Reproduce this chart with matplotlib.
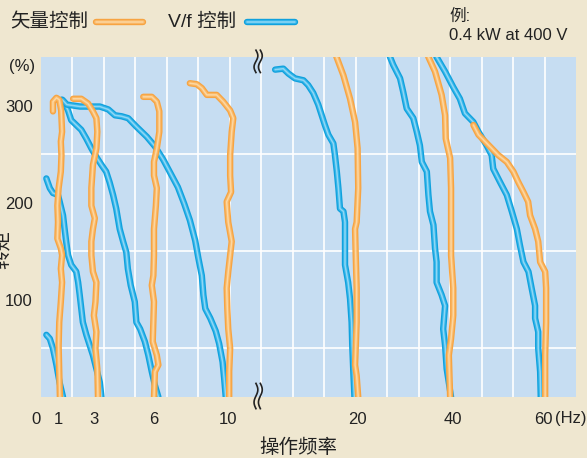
import numpy as np
import matplotlib
matplotlib.use("Agg")
import matplotlib.pyplot as plt
from matplotlib.lines import Line2D

plt.rcParams['font.family'] = ['Liberation Sans', 'Noto Sans CJK SC']

# x is in grid-column units of the drawing (the frequency axis is not to scale), torque in %
freq_pos = [0, 0.55, 1.69, 3.57, 5.93, 10.05, 13.08, 15.95]
freq_labels = ["0", "1", "3", "6", "10", "20", "40", "60"]
torque_ticks = [100, 200, 300]

# vector control
vec1_x = [0.38, 0.38, 0.49, 0.58, 0.64, 0.67, 0.63, 0.65, 0.63, 0.56, 0.52, 0.54, 0.52, 0.63, 0.67, 0.63, 0.67, 0.63, 0.58, 0.56, 0.58, 0.60]
vec1_t = [294, 304, 308, 306, 295, 273, 263, 249, 232, 215, 197, 180, 163, 153, 146, 132, 118, 98, 77, 53, 26, 0]
vec3_x = [1.02, 1.28, 1.50, 1.65, 1.76, 1.79, 1.76, 1.65, 1.60, 1.60, 1.71, 1.65, 1.60, 1.60, 1.65, 1.76, 1.73, 1.68, 1.76, 1.73, 1.79, 1.81]
vec3_t = [307, 307, 302, 294, 287, 273, 256, 239, 215, 197, 184, 173, 160, 146, 129, 118, 98, 84, 67, 50, 29, 0]
vec6_x = [3.25, 3.52, 3.68, 3.76, 3.76, 3.68, 3.59, 3.59, 3.68, 3.65, 3.59, 3.59, 3.57, 3.52, 3.59, 3.57, 3.55, 3.68, 3.73, 3.62, 3.59]
vec6_t = [309, 309, 304, 294, 273, 256, 242, 228, 215, 197, 173, 146, 125, 115, 98, 77, 57, 43, 33, 26, 0]
vec10_x = [4.73, 4.95, 5.11, 5.27, 5.58, 5.79, 6.01, 6.11, 6.06, 6.01, 6.01, 6.04, 5.90, 5.95, 6.06, 6.01, 5.95, 5.90, 5.92, 5.95, 6.01, 5.98, 5.98]
vec10_t = [323, 322, 318, 311, 311, 304, 295, 287, 273, 249, 228, 211, 201, 180, 160, 146, 129, 112, 91, 70, 50, 26, 0]
vec20_x = [9.26, 9.39, 9.61, 9.82, 9.98, 10.06, 10.08, 10.03, 9.98, 10.00, 10.03, 10.03, 9.98, 10.03, 10.08]
vec20_t = [362, 350, 331, 307, 283, 256, 215, 180, 173, 146, 112, 77, 33, 22, 0]
vec40_x = [12.20, 12.31, 12.52, 12.73, 12.84, 12.86, 13.00, 13.03, 13.03, 13.03, 13.10, 13.10, 13.03, 12.96, 13.00]
vec40_t = [362, 350, 335, 311, 290, 266, 246, 215, 180, 146, 112, 84, 60, 43, 0]
vec60_x = [13.74, 13.90, 14.11, 14.32, 14.53, 14.80, 15.01, 15.17, 15.33, 15.48, 15.54, 15.70, 15.80, 15.86, 16.02, 16.05, 16.05, 16.02, 16.02]
vec60_t = [280, 270, 263, 256, 249, 242, 232, 221, 211, 201, 187, 173, 160, 139, 129, 112, 77, 43, 0]

# V/f control
vf1_x = [0.17, 0.28, 0.38, 0.49, 0.59, 0.70]
vf1_t = [64, 60, 50, 33, 15, 0]
vf3_x = [0.17, 0.28, 0.38, 0.54, 0.70, 0.75, 0.80, 0.86, 0.96, 1.12, 1.18, 1.23, 1.28, 1.33, 1.44, 1.55, 1.65, 1.76, 1.87, 1.92]
vf3_t = [225, 215, 210, 208, 187, 173, 160, 146, 136, 129, 118, 105, 91, 77, 64, 53, 43, 29, 15, 0]
vf6_x = [0.65, 0.75, 0.86, 0.96, 1.12, 1.28, 1.44, 1.60, 1.76, 1.92, 2.07, 2.18, 2.29, 2.39, 2.50, 2.61, 2.71, 2.76, 2.85, 2.98, 3.03, 3.15, 3.30, 3.41, 3.52, 3.62, 3.73]
vf6_t = [306, 302, 295, 285, 280, 275, 266, 256, 247, 239, 232, 221, 208, 194, 173, 160, 149, 132, 115, 98, 77, 70, 57, 43, 26, 12, 0]
vf10_x = [0.68, 0.82, 1.24, 1.87, 2.14, 2.35, 2.56, 2.77, 3.04, 3.36, 3.62, 3.89, 4.12, 4.35, 4.55, 4.73, 4.90, 5.00, 5.11, 5.16, 5.22, 5.38, 5.55, 5.66, 5.77, 5.82, 5.87]
vf10_t = [306, 301, 299, 299, 296, 290, 289, 287, 278, 268, 258, 244, 230, 216, 199, 182, 161, 143, 125, 105, 91, 81, 68, 55, 36, 19, 0]
vf20_x = [7.44, 7.70, 7.86, 8.07, 8.34, 8.49, 8.65, 8.81, 8.92, 9.02, 9.13, 9.29, 9.34, 9.40, 9.45, 9.50, 9.61, 9.66, 9.66, 9.66, 9.76, 9.82, 9.87, 9.89, 9.92, 9.96]
vf20_t = [337, 338, 333, 328, 326, 321, 313, 301, 290, 280, 270, 261, 249, 232, 215, 194, 191, 180, 160, 136, 118, 101, 77, 53, 29, 0]
vf40_x = [11.03, 11.09, 11.19, 11.41, 11.51, 11.62, 11.83, 11.94, 12.04, 12.10, 12.26, 12.31, 12.36, 12.47, 12.52, 12.57, 12.57, 12.73, 12.84, 12.78, 12.84, 12.89, 13.03]
vf40_t = [359, 350, 342, 328, 314, 297, 287, 273, 259, 242, 232, 208, 191, 177, 153, 139, 118, 105, 94, 70, 53, 29, 0]
vf60_x = [12.49, 12.57, 12.84, 13.10, 13.31, 13.47, 13.74, 13.90, 14.16, 14.32, 14.37, 14.59, 14.80, 14.96, 15.12, 15.22, 15.33, 15.49, 15.59, 15.70, 15.70, 15.80, 15.80, 15.86, 15.88]
vf60_t = [359, 350, 335, 319, 307, 292, 283, 273, 259, 249, 235, 221, 208, 191, 173, 156, 139, 129, 112, 94, 81, 67, 50, 26, 0]

BG = '#efe7d0'
PLOT_BG = '#c6ddf2'
ORANGE = ('#f7a442', '#fab866', '#fcd7a2')
BLUE = ('#10a1dd', '#36b6ea', '#8fd7f5')
WIDTHS = (4.6, 2.8, 1.1)
TEXT = '#222222'
BREAK_AT = 6.9


def tube(ax, x, y, cols):
    # thick line with a lighter core, like the drawn pipes of the original
    for col, lw in zip(cols, WIDTHS):
        ax.plot(x, y, color=col, lw=lw, solid_capstyle='round', solid_joinstyle='round')


def squiggle(ax, x0, t0, t1):
    s = np.linspace(0, 1, 40)
    for dx in (-0.07, 0.07):
        ax.plot(x0 + dx + 0.06 * np.sin(2 * np.pi * s), t0 + (t1 - t0) * s,
                color=TEXT, lw=1.2, clip_on=False, zorder=5)


fig = plt.figure(figsize=(5.87, 4.58), dpi=100, facecolor=BG)
ax = fig.add_axes([41 / 587, 61 / 458, 535 / 587, 340 / 458])
ax.set_facecolor(PLOT_BG)
ax.set_xlim(0, 17)
ax.set_ylim(0, 350)
for s in ax.spines.values():
    s.set_visible(False)

ax.set_xticks(np.arange(1, 17), minor=True)
ax.set_yticks(np.arange(50, 350, 50), minor=True)
ax.grid(which='minor', color='white', lw=1.2)
ax.set_axisbelow(True)
ax.tick_params(which='both', length=0)
ax.set_xticks(freq_pos)
ax.set_xticklabels(freq_labels, fontsize=12, color=TEXT)
ax.get_xticklabels()[0].set_ha('right')
ax.set_yticks(torque_ticks)
ax.set_yticklabels([str(v) for v in torque_ticks], fontsize=12, color=TEXT)
ax.tick_params(axis='x', pad=11)
ax.tick_params(axis='y', pad=6)
ax.text(16.33, -22, "(Hz)", fontsize=12, color=TEXT, ha='left', va='center')

for x, t in [(vf1_x, vf1_t), (vf3_x, vf3_t), (vf6_x, vf6_t), (vf10_x, vf10_t),
             (vf20_x, vf20_t), (vf40_x, vf40_t), (vf60_x, vf60_t)]:
    tube(ax, x, t, BLUE)
for x, t in [(vec1_x, vec1_t), (vec3_x, vec3_t), (vec6_x, vec6_t), (vec10_x, vec10_t),
             (vec20_x, vec20_t), (vec40_x, vec40_t), (vec60_x, vec60_t)]:
    tube(ax, x, t, ORANGE)

squiggle(ax, BREAK_AT, 357, 334)
squiggle(ax, BREAK_AT, 14, -12)

fig.text(22 / 587, 1 - 66 / 458, "(%)", fontsize=12, color=TEXT, ha='center', va='center')
fig.text(3 / 587, 0.455, "转矩", fontsize=14, color=TEXT, rotation=90, ha='center', va='center')
fig.text(298 / 587, 0.022, "操作频率", fontsize=14, color=TEXT, ha='center', va='center')

# legend drawn by hand on the figure
yy = 1 - 22 / 458
fig.text(10 / 587, yy, "矢量控制", fontsize=14, color=TEXT, ha='left', va='center')
fig.text(168 / 587, yy, "V/f 控制", fontsize=14, color=TEXT, ha='left', va='center')
for (x0, x1), cols in [((96, 143), ORANGE), ((247, 295), BLUE)]:
    for col, lw in zip(cols, WIDTHS):
        fig.add_artist(Line2D([x0 / 587, x1 / 587], [yy, yy], color=col, lw=lw, solid_capstyle='round'))

fig.text(449 / 587, 1 - 16 / 458, "例:", fontsize=12, color=TEXT, ha='left', va='center')
fig.text(449 / 587, 1 - 35 / 458, "0.4 kW at 400 V", fontsize=12, color=TEXT, ha='left', va='center')

fig.savefig("out.png", dpi=100, facecolor=BG)
